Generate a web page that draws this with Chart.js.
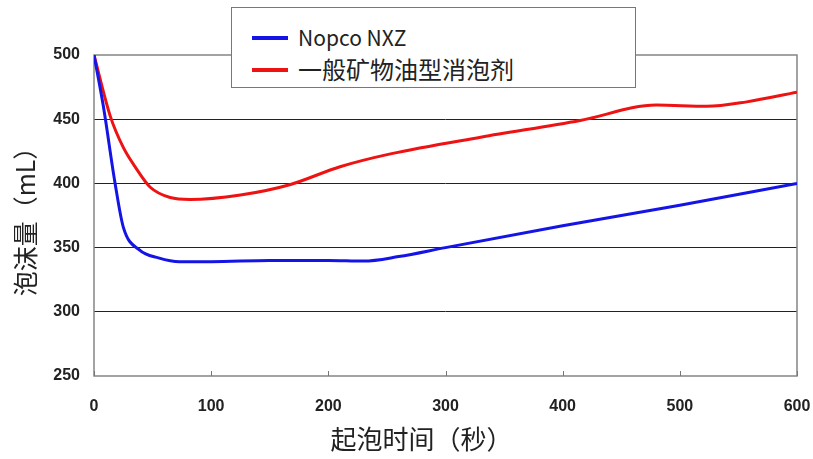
<!DOCTYPE html>
<html>
<head>
<meta charset="utf-8">
<script src="https://cdn.jsdelivr.net/npm/chart.js@4.4.1/dist/chart.umd.min.js"></script>
<style>
  html, body { margin: 0; padding: 0; background: #fff; }
  #wrap { position: relative; width: 813px; height: 459px; }
  #legend {
    position: absolute; left: 231px; top: 7px; width: 403px; height: 79px;
    background: #fff; border: 1px solid #777;
    font-family: "Noto Sans CJK SC", "Open Sans", sans-serif; color: #222;
  }
  #legend .item { position: absolute; left: 20px; height: 26px; line-height: 26px; }
  #legend .swatch { position: absolute; left: 0; top: 11px; width: 36px; height: 4px; }
  #legend .label { position: absolute; left: 46px; top: -1px; white-space: nowrap; }
</style>
</head>
<body>
<div id="wrap">
  <canvas id="chart" width="813" height="459"></canvas>
  <div id="legend"></div>
</div>
<script>
// x = seconds, y = foam volume (mL)
const nxzTimes  = [0, 8, 18, 25, 39, 55, 73, 100, 150, 200, 230, 260, 300, 400, 500, 600];
const nxzFoam   = [500, 460, 400, 366, 348, 342, 339, 339, 340, 340, 339.5, 343, 350, 367, 383, 400];
const oilTimes  = [0, 14, 25, 35, 48, 65, 82, 125, 167, 210, 253, 330, 415, 480, 523, 557, 600];
const oilFoam   = [500, 452, 428, 413, 397, 389, 387.5, 391, 399, 413, 423, 436, 449, 461, 460, 463.5, 471];
const seriesNames = ['Nopco NXZ', '一般矿物油型消泡剂'];
const xTitle = '起泡时间（秒）';
const yTitle = '泡沫量（mL）';
const xTicks = [0, 100, 200, 300, 400, 500, 600];
const yTicks = [250, 300, 350, 400, 450, 500];

const toPoints = (xs, ys) => xs.map((x, i) => ({ x, y: ys[i] }));

const frame = {
  id: 'frame',
  beforeDatasetsDraw(chart) {
    const { ctx, chartArea: a, scales } = chart;
    ctx.save();
    ctx.strokeStyle = '#858585';
    ctx.lineWidth = 1.5;
    ctx.strokeRect(a.left, a.top, a.right - a.left, a.bottom - a.top);
    // small inward tick marks on the time axis
    ctx.strokeStyle = '#777';
    ctx.lineWidth = 1;
    xTicks.forEach(v => {
      const px = Math.round(scales.x.getPixelForValue(v)) + 0.5;
      ctx.beginPath();
      ctx.moveTo(px, a.bottom);
      ctx.lineTo(px, a.bottom - 5);
      ctx.stroke();
    });
    ctx.restore();
  },
  afterDraw(chart) {
    // x-axis title sits a little left of the plot centre in the original
    const { ctx, chartArea: a } = chart;
    ctx.save();
    ctx.fillStyle = '#222';
    ctx.font = '26px "Noto Sans CJK SC"';
    ctx.textAlign = 'center';
    ctx.textBaseline = 'middle';
    ctx.fillText(xTitle, (a.left + a.right) / 2 - 24, 439);
    ctx.restore();
  }
};

const chart = new Chart(document.getElementById('chart'), {
  type: 'line',
  data: {
    datasets: [
      {
        label: seriesNames[0],
        data: toPoints(nxzTimes, nxzFoam),
        borderColor: '#1414e6',
        borderWidth: 3,
        pointRadius: 0,
        cubicInterpolationMode: 'monotone',
      },
      {
        label: seriesNames[1],
        data: toPoints(oilTimes, oilFoam),
        borderColor: '#ee1212',
        borderWidth: 3,
        pointRadius: 0,
        cubicInterpolationMode: 'monotone',
      },
    ],
  },
  options: {
    responsive: false,
    animation: false,
    layout: { padding: { top: 55, right: 16, left: 0, bottom: 0 } },
    plugins: { legend: { display: false }, tooltip: { enabled: false } },
    scales: {
      x: {
        type: 'linear',
        min: 0,
        max: 600,
        afterBuildTicks: s => { s.ticks = xTicks.map(v => ({ value: v })); },
        afterFit: s => { s.height = 83; s.paddingRight = 0; },
        grid: { display: false },
        border: { display: false },
        ticks: {
          padding: 13,
          color: '#222',
          font: { family: 'Liberation Sans', size: 16, weight: 'bold' },
        },
        title: { display: false },
      },
      y: {
        min: 250,
        max: 500,
        afterBuildTicks: s => { s.ticks = yTicks.map(v => ({ value: v })); },
        afterFit: s => { s.width = 94; },
        grid: {
          drawTicks: false,
          color: ctx => (ctx.tick.value === 250 || ctx.tick.value === 500) ? 'rgba(0,0,0,0)' : '#222',
          lineWidth: 1,
        },
        border: { display: false },
        ticks: {
          padding: 14,
          color: '#222',
          font: { family: 'Liberation Sans', size: 16, weight: 'bold' },
        },
        title: {
          display: true,
          text: yTitle,
          color: '#222',
          font: { family: 'Noto Sans CJK SC', size: 25 },
          padding: { top: 10, bottom: 0 },
        },
      },
    },
  },
  plugins: [frame],
});

// legend box drawn on top of the plot, like the original
const legend = document.getElementById('legend');
chart.data.datasets.forEach((ds, i) => {
  const item = document.createElement('div');
  item.className = 'item';
  item.style.top = (17 + i * 32) + 'px';
  const size = /[\u4e00-\u9fff]/.test(ds.label) ? 24 : 21;
  item.innerHTML = `<span class="swatch" style="background:${ds.borderColor}"></span><span class="label" style="font-size:${size}px">${ds.label}</span>`;
  legend.appendChild(item);
});
</script>
</body>
</html>
